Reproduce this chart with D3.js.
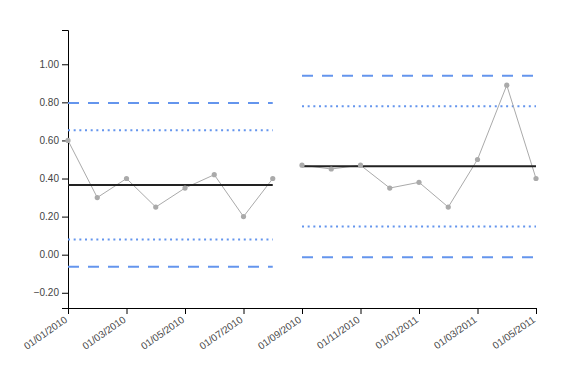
<!DOCTYPE html>
<html>
<head>
<meta charset="utf-8">
<script src="https://cdn.jsdelivr.net/npm/d3@7"></script>
<style>
  body { margin: 0; background: #fff; font-family: Arial, "Liberation Sans", sans-serif; }
  .axis text { font-size: 10px; fill: #444; font-family: Arial, "Liberation Sans", sans-serif; }
</style>
</head>
<body>
<div id="chart"></div>
<script>
// Months (one point per month) and the two periods of the control chart
const months = ['01/01/2010', '01/02/2010', '01/03/2010', '01/04/2010', '01/05/2010', '01/06/2010',
  '01/07/2010', '01/08/2010', '01/09/2010', '01/10/2010', '01/11/2010', '01/12/2010',
  '01/01/2011', '01/02/2011', '01/03/2011', '01/04/2011', '01/05/2011']
const xTicks = ['01/01/2010', '01/03/2010', '01/05/2010', '01/07/2010', '01/09/2010',
  '01/11/2010', '01/01/2011', '01/03/2011', '01/05/2011']
const yTicks = [-0.2, 0, 0.2, 0.4, 0.6, 0.8, 1.0]

const period1 = [0.60, 0.30, 0.40, 0.25, 0.35, 0.42, 0.20, 0.40]
const period2 = [0.47, 0.45, 0.47, 0.35, 0.38, 0.25, 0.50, 0.89, 0.40]

// Centre line and limits for each period [period1, period2]
const means = [0.366, 0.464]
const upper3 = [0.796, 0.94]
const lower3 = [-0.063, -0.014]
const upper2 = [0.653, 0.78]
const lower2 = [0.080, 0.148]

const w = 566
const h = 369
const margin = { top: 30, right: 30, bottom: 61, left: 68 }
const innerW = w - margin.left - margin.right
const innerH = h - margin.top - margin.bottom

const svg = d3.select('#chart').append('svg')
  .attr('width', w)
  .attr('height', h)

const g = svg.append('g')
  .attr('transform', `translate(${margin.left}, ${margin.top})`)

const x = d3.scalePoint()
  .domain(months)
  .range([0, innerW])

const y = d3.scaleLinear()
  .domain([-0.28, 1.18])
  .range([innerH, 0])

// Axes
g.append('g')
  .attr('class', 'axis')
  .call(d3.axisLeft(y).tickValues(yTicks).tickFormat(d3.format('.2f')))

g.append('g')
  .attr('class', 'axis')
  .attr('transform', `translate(0, ${innerH})`)
  .call(d3.axisBottom(x).tickValues(xTicks))
  .selectAll('text')
  .style('text-anchor', 'end')
  .attr('dx', '-.8em')
  .attr('dy', '.15em')
  .attr('transform', 'rotate(-35)')

// Periods as lists of {month, value}
const periods = [
  period1.map((v, i) => ({ m: months[i], v })),
  period2.map((v, i) => ({ m: months[i + period1.length], v }))
]

const line = d3.line()
  .x(d => x(d.m))
  .y(d => y(d.v))

periods.forEach((data, p) => {
  const x0 = x(data[0].m)
  const x1 = x(data[data.length - 1].m)

  // Control limits
  const hline = (val, color, width, dash) => {
    g.append('line')
      .attr('x1', x0)
      .attr('x2', x1)
      .attr('y1', y(val))
      .attr('y2', y(val))
      .attr('stroke', color)
      .attr('stroke-width', width)
      .attr('stroke-dasharray', dash)
  }
  hline(upper3[p], '#6495ed', 2, '11,9')
  hline(lower3[p], '#6495ed', 2, '11,9')
  hline(upper2[p], '#6495ed', 2, '2,3.67')
  hline(lower2[p], '#6495ed', 2, '2,3.67')

  // Data line
  g.append('path')
    .datum(data)
    .attr('fill', 'none')
    .attr('stroke', '#aaa')
    .attr('stroke-width', 1)
    .attr('d', line)

  // Mean
  hline(means[p], '#222', 2, null)

  // Points
  g.selectAll(null)
    .data(data)
    .enter()
    .append('circle')
    .attr('cx', d => x(d.m))
    .attr('cy', d => y(d.v))
    .attr('r', 2.6)
    .attr('fill', '#aaa')
})
</script>
</body>
</html>
